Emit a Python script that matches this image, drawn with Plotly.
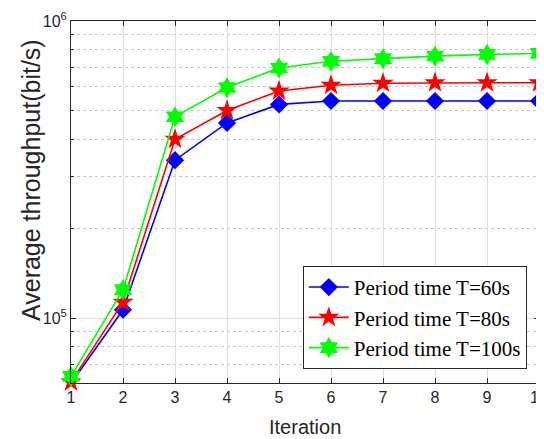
import plotly.graph_objects as go

iterations = [1, 2, 3, 4, 5, 6, 7, 8, 9, 10]
t60 = [6.03e4, 1.067e5, 3.40e5, 4.54e5, 5.24e5, 5.38e5, 5.38e5, 5.38e5, 5.38e5, 5.38e5]
t80 = [6.1e4, 1.132e5, 4.0e5, 5.0e5, 5.81e5, 6.08e5, 6.17e5, 6.2e5, 6.2e5, 6.2e5]
t100 = [6.37e4, 1.247e5, 4.76e5, 5.97e5, 6.95e5, 7.32e5, 7.47e5, 7.62e5, 7.72e5, 7.78e5]
names = ["Period time T=60s", "Period time T=80s", "Period time T=100s"]
x_ticks = [1, 2, 3, 4, 5, 6, 7, 8, 9, 10]
y_major = [1e5, 1e6]
y_major_text = ["10<sup>5</sup>", "10<sup>6</sup>"]
y_minor = [7e4, 8e4, 9e4, 2e5, 3e5, 4e5, 5e5, 6e5, 7e5, 8e5, 9e5]

fig = go.Figure()
styles = [("#0000ff", "diamond", 14), ("#ff0000", "star", 16), ("#00ff00", "hexagram", 16)]
for ys, nm, (c, sym, sz) in zip([t60, t80, t100], names, styles):
    fig.add_trace(go.Scatter(x=iterations, y=ys, name=nm, mode="lines+markers",
                             line=dict(color=c, width=1.6),
                             marker=dict(symbol=sym, size=sz, color=c, line=dict(width=0)),
                             cliponaxis=False))

axis_font = dict(family="Liberation Sans, Arial", size=16, color="#262626")
title_font_family = "Liberation Sans, Arial"
fig.update_layout(
    width=536, height=431,
    margin=dict(l=63, r=5, t=13, b=56, autoexpand=False),
    plot_bgcolor="white", paper_bgcolor="white",
    showlegend=True,
    legend=dict(x=0.974, y=0.039, xanchor="right", yanchor="bottom",
                bgcolor="white", bordercolor="#262626", borderwidth=1,
                font=dict(family="Liberation Serif, Times New Roman", size=21, color="black"),
                tracegroupgap=0, itemwidth=40),
    xaxis=dict(range=[1, 10], tickvals=x_ticks, ticks="inside", ticklen=5,
               tickcolor="#262626", showline=True, linecolor="#262626", linewidth=1,
               mirror="ticks", showgrid=True, gridcolor="#dcdcdc", gridwidth=1,
               tickfont=axis_font, zeroline=False, automargin=False,
               ticklabeloverflow="allow"),
    yaxis=dict(type="log", range=[4.7817, 6], tickvals=y_major, ticktext=y_major_text,
               ticks="inside", ticklen=5, tickcolor="#262626", showline=True,
               linecolor="#262626", linewidth=1, mirror="allticks", automargin=False,
               showgrid=True, gridcolor="#dcdcdc", gridwidth=1, tickfont=axis_font,
               ticklabeloverflow="allow",
               minor=dict(tickvals=y_minor, ticks="inside", ticklen=3, tickcolor="#262626",
                          showgrid=True, gridcolor="#c8c8c8", griddash="dot", gridwidth=1)),
    annotations=[
        dict(text="Iteration", xref="paper", yref="paper", x=0.5, y=(383 - 427) / 362,
             xanchor="center", yanchor="middle", showarrow=False,
             font=dict(family=title_font_family, size=20, color="#262626")),
        dict(text="Average throughput(bit/s)", xref="paper", yref="paper",
             x=(31 - 71) / 468, y=(383 - 180) / 362, textangle=-90,
             xanchor="center", yanchor="middle", showarrow=False,
             font=dict(family=title_font_family, size=25, color="#262626")),
    ],
)
fig.write_html("out.html")
